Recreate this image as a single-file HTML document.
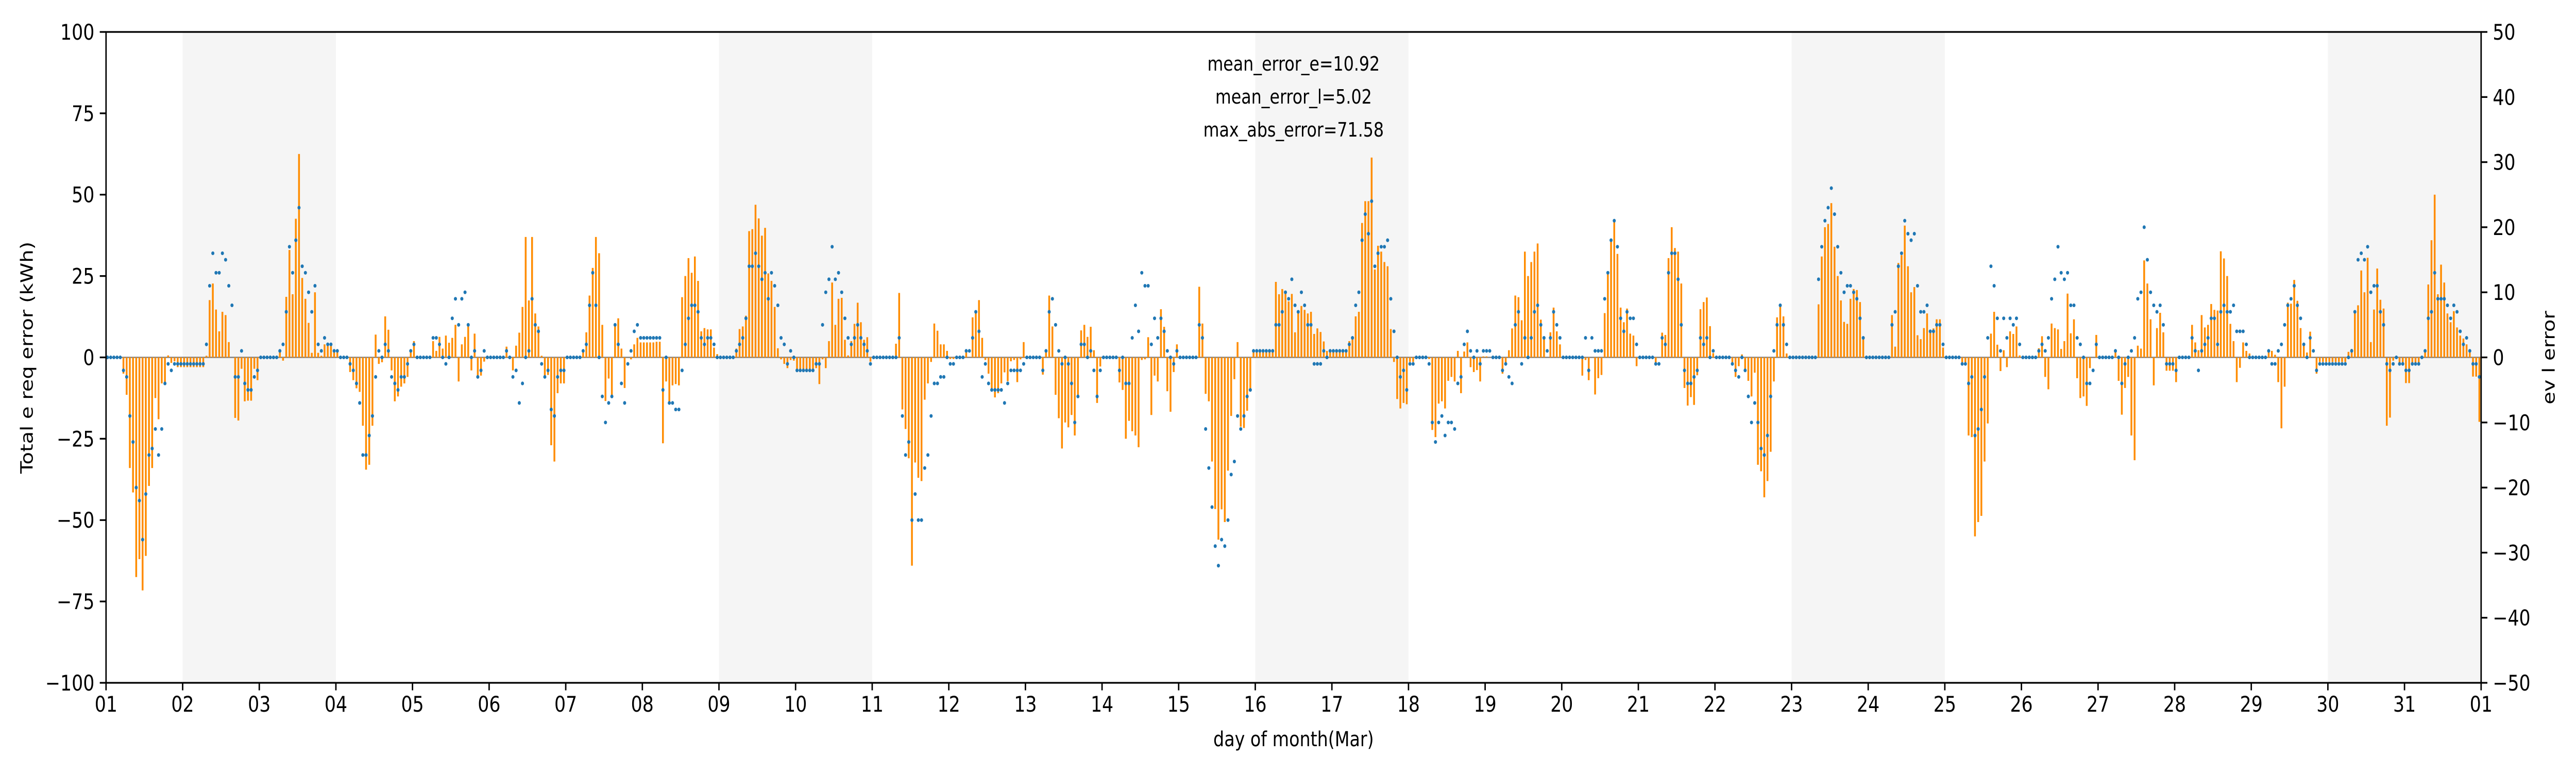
<!DOCTYPE html>
<html>
<head>
<meta charset="utf-8">
<meta name="viewport" content="width=6000, initial-scale=1">
<style>
  html,body{margin:0;padding:0;background:#fff;overflow:hidden;width:100vw;height:100vh;}
  svg{display:block;width:100vw;height:100vh;}
  text{font-family:"DejaVu Sans","Liberation Sans",sans-serif;fill:#000;}
</style>
</head>
<body>
<svg id="chart" xmlns="http://www.w3.org/2000/svg" viewBox="0 0 6000 1500" preserveAspectRatio="none">
  <rect x="0" y="0" width="6000" height="1500" fill="#ffffff"/>
  <g id="bands"></g>
  <g id="zeroline"></g>
  <g id="bars"></g>
  <g id="dots"></g>
  <g id="axes"></g>
  <g>
    <text x="3013" y="137" font-size="38" text-anchor="middle">mean_error_e=10.92</text>
    <text x="3013" y="201" font-size="38" text-anchor="middle">mean_error_l=5.02</text>
    <text x="3013" y="265" font-size="38" text-anchor="middle">max_abs_error=71.58</text>
  </g>
  <text x="3013" y="1448" font-size="40" text-anchor="middle">day of month(Mar)</text>
  <text transform="translate(76,694) rotate(-90)" font-size="40" text-anchor="middle">Total e req error (kWh)</text>
  <text transform="translate(5950,694) rotate(-90)" font-size="40" text-anchor="middle">ev l error</text>
</svg>
<script>
// ---- data ----
const xTickLabels = ["01","02","03","04","05","06","07","08","09","10","11","12","13","14","15","16","17","18","19","20","21","22","23","24","25","26","27","28","29","30","31","01"];
const leftTicks = [-100,-75,-50,-25,0,25,50,75,100];
const rightTicks = [-50,-40,-30,-20,-10,0,10,20,30,40,50];
const weekendStartDays = [1,8,15,22,29];
// total e req error (kWh), hourly, 31 days
const eReq = [
0,0,0,0,0,-5,-11.5,-34,-41.5,-67.5,-62,-71.6,-61,-39.5,-34,-12.5,-19,-8,-8.5,0.6,-1.7,-1.2,-3,-3,
-3,-3,-3,-3,-3,-3,-3,0.5,17.6,22.7,14.7,8,14,13,4.7,0,-18.6,-19.4,-3.5,-13.5,-13.3,-13.3,-3.5,-7,
0,0,0,0,0,0,2,-1,18.6,33,19.4,42.6,62.5,24.4,18,10.6,1.4,20,1.4,0.5,4,4,3.5,2,
2,0,0,0,-4.5,-7,-9.5,-10.6,-21,-34.5,-33,-21,7,-2,-1.5,12.6,8.5,-4,-13.5,-12,-9,-8,-6,2,
5,0,0,0,0,0,5,2,6.3,2.7,6.7,4.5,6,10,-7.4,4,6.3,10,-4,7.3,-6,-5.6,-1.3,0,
0,0,0,0,0,3.3,0,-4,3.6,7.6,15.5,37,17.5,37,13.5,9.5,0.5,-6,-5.4,-27,-32,-11,-8,-8,
0,0,0,0,0,2,7.7,19,27.5,37,32,10,-13.4,-6.5,-12,10,12,2.7,-9.4,0,-0.6,4,6,4.6,
4.6,4.6,4.6,4.6,4.8,4.8,-26.4,-7.4,-14,-8.6,-8.2,-8.6,18.5,25,30.5,26,31,23.5,8,9,8.6,8.6,3,1,
0,0,0,0,0,2.7,8.7,9.5,12.8,38.8,39.4,46.9,42.7,37.4,39.8,25.8,23.5,15.5,2.8,-0.6,-2,-3.3,-0.8,-1,
-4,-4,-4,-4,-4,-4,-3.3,-8.2,-0.6,-3.3,5,23,10,18,18.3,5.4,0.6,5,10.3,16.8,10.8,5.4,6.2,-1.3,
0,0,0,0,0,0,0,4.2,19.8,-16,-22,-31,-64,-32.3,-37,-38,-13,-8,-1.4,10.4,8.2,4,4,2,
-0.5,-0.5,0,0,0,1.8,0,12.3,14,17.6,6,-0.8,-5,-9.5,-12.3,-11,-8,-4.6,-7.3,-1.2,-0.8,-7.6,-0.6,4.7,
0,0,0,0,0,-5.3,1.8,19,9.5,-11.5,-18.7,-28,-20,-21.5,-17.7,-24,-12,8.3,10,6.3,9.4,2.2,-14,-2.8,
0,0,0,0,0,-7.7,-10,-25,-19.5,-22.7,-24,-27.6,-0.8,-0.6,6.2,-17.7,-5.6,-7.4,14.8,9.4,-10.4,-16.7,-4.5,4,
0,0,0,0,0,0,21.7,10.4,-11.2,-13.5,-32,-46.6,-56,-46.7,-50.6,-34.8,-18,-6.7,4.7,-21.3,-21.7,-16.4,-9.5,2,
2,2,2,2,2,2,23.2,19.4,21,20,17.2,19.5,7.7,13.9,15.8,14.6,13.5,14,7.2,8.9,7.8,4.9,2,2,
2,2,2,2,2,5,5.6,12.6,14,41.3,48,48,61.4,27,34.3,32.5,29.3,28,8.7,-1.4,-12.8,-15.7,-14,-14.4,
-1.4,-1.4,0,0,0,0,-0.5,-22.3,-24.5,-14.2,-13.5,-15.7,-7.2,-6,-7.4,2,-11,1.8,4.6,-3,-4.5,-3.9,-7.4,0.3,
0.3,0,0,0,0,-5,-2,2.2,8.9,19,18.5,11.4,32.5,25,29.3,32.5,35,11.6,6,0,7.7,15.3,8,4,
0,0,0,0,0,0,-5.6,-0.8,-7,0,-11.4,-6.4,-5.4,13.6,25.8,36,41.7,31.8,15.3,10.8,15,7.3,6.7,-2.7,
0,0,0,0,0,-1.5,0,7.6,6.9,30.5,40,33.6,32.5,22.7,-9.4,-14.8,-12.2,-14.6,-5.5,14.8,17,18.4,9.6,1.3,
0,0,0,0,0,-1.5,-6,-2.7,0.9,-3.6,-7.2,-12,-4.7,-33,-35,-43,-38,-29,-7.4,12.3,16,12.6,1.2,0,
0,0,0,0,0,0,0,0,16.3,31,40,41,47.4,34,25,17.5,10.9,10.3,18,21,20.7,17,6,0,
0,0,0,0,0,0,0,13,3.3,29,31.4,40.5,28,20,21.6,6.8,5.6,9,13.5,7.6,8.9,11.7,11.7,3,
0,0,0,0,0,-1.5,-1.5,-24,-24.5,-55,-50.6,-48.7,-32,-20.3,7.3,14,3.9,-4.2,2.2,-3,8,7.2,9.5,0.6,
0,0,0,0,0,2.8,6.5,-6,-9.8,10.4,9,8.6,2.6,5,19.6,7.4,11.7,-6.4,-12.5,-12,-14.9,-3.3,0,6.9,
0,0,0,0,0,1.8,-7.2,-17.6,-9.4,-6,-24,-31.6,3.6,2.7,29.8,22.7,11.7,-8.6,9,13.7,7.7,-4.1,-4.1,-4.1,
-7.6,0,0,0,0,10,4.6,2.2,13,9.2,10,16.4,14.6,14.4,32.6,30.4,25,10.3,5,-7.6,-3.2,4.6,2,1.2,
0,0,0,0,0,2,2,0.8,-7.6,-21.8,-9,16.8,16.5,23.8,17.4,9,3.6,1.5,7.9,0,-5,-1.4,-1.4,-1.4,
-1.4,-1.4,-1.4,-1.4,-1.4,-1.4,1.7,2.6,14.5,16,26.7,20,30.6,4.7,14.7,27.3,17.7,15,-21,-18.5,-1,0,-2,-2,
-7.9,-7.9,-2,-2,-2,0,1.7,22.4,36,50,19.4,28.5,23,13.5,10.8,14.2,9.2,6.7,5.8,4,1.5,-5.9,-5.9,-19.8
];
// ev l error, hourly, 31 days
const evL = [
0,0,0,0,0,-2,-3,-9,-13,-20,-22,-28,-21,-15,-14,-11,-15,-11,-4,-1,-2,-1,-1,-1,
-1,-1,-1,-1,-1,-1,-1,2,11,16,13,13,16,15,11,8,-3,-3,1,-4,-5,-5,-3,-2,
0,0,0,0,0,0,1,2,7,17,13,18,23,14,13,10,7,11,2,1,3,2,2,1,
1,0,0,0,-1,-2,-4,-7,-15,-15,-12,-9,-3,1,0,2,1,-3,-4,-5,-3,-3,-1,1,
2,0,0,0,0,0,3,3,2,0,-1,0,6,9,5,9,10,5,0,1,-3,-2,1,0,
0,0,0,0,0,1,0,-3,-2,-7,-4,0,1,9,5,4,-1,-3,-2,-8,-9,-3,-2,-2,
0,0,0,0,0,1,2,8,13,8,0,-6,-10,-7,-6,5,2,-4,-7,-1,1,4,5,3,
3,3,3,3,3,3,-5,0,-7,-7,-8,-8,-2,2,6,8,8,7,3,2,3,3,2,0,
0,0,0,0,0,1,2,3,6,14,14,16,14,12,13,9,13,11,8,3,2,-1,1,0,
-2,-2,-2,-2,-2,-2,-1,-1,5,10,12,17,12,13,10,6,3,2,3,5,3,2,1,-1,
0,0,0,0,0,0,0,0,3,-9,-15,-13,-25,-21,-25,-25,-17,-15,-9,-4,-4,-3,-3,0,
-1,-1,0,0,0,1,1,3,7,4,-3,-1,-4,-5,-5,-5,-5,-7,-4,-2,-2,-2,-2,-1,
0,0,0,0,0,-2,1,7,9,5,1,-1,0,-1,-4,-10,-6,2,2,0,1,-2,-6,-2,
0,0,0,0,0,-2,0,-4,-4,3,8,4,13,11,11,2,6,3,6,4,1,0,-1,1,
0,0,0,0,0,0,5,3,-11,-17,-23,-29,-32,-28,-29,-25,-18,-16,-9,-11,-9,-6,-5,1,
1,1,1,1,1,1,5,5,7,10,9,12,8,7,10,8,5,5,-1,-1,-1,1,0,1,
1,1,1,1,1,2,3,8,10,18,22,19,24,14,16,17,17,18,9,4,0,-3,-2,-5,
-1,-1,0,0,0,0,-1,-10,-13,-10,-9,-12,-10,-10,-11,-4,-3,2,4,1,0,1,-1,1,
1,1,0,0,0,-2,-1,-3,-4,5,7,-1,3,0,3,7,8,5,3,1,3,7,5,3,
0,0,0,0,0,0,0,3,-2,3,1,1,1,9,13,18,21,17,6,4,7,6,6,2,
0,0,0,0,0,-1,-1,3,2,13,16,16,12,5,-2,-4,-4,-3,-2,3,2,3,0,1,
0,0,0,0,0,-1,-2,-3,0,-2,-6,-10,-7,-10,-14,-15,-12,-6,1,5,8,5,2,0,
0,0,0,0,0,0,0,0,12,17,21,23,26,22,17,13,10,11,11,10,9,6,3,0,
0,0,0,0,0,0,0,5,7,14,16,21,19,18,19,11,7,7,8,4,4,5,5,2,
0,0,0,0,0,-1,-1,-4,-3,-12,-11,-8,-3,3,14,11,6,1,6,3,6,5,6,2,
0,0,0,0,0,1,2,1,3,9,12,17,13,12,13,8,8,3,2,0,-4,-4,-2,2,
0,0,0,0,0,1,0,-4,-1,0,1,3,9,10,20,15,10,8,7,8,5,-1,-1,-1,
-2,0,0,0,0,3,1,-2,1,2,3,6,6,2,7,8,7,7,8,4,4,4,2,0,
0,0,0,0,0,1,-1,-1,1,2,5,8,9,11,8,6,2,0,3,1,-2,-1,-1,-1,
-1,-1,-1,-1,-1,-1,0,1,7,15,16,15,17,10,11,11,7,5,-1,-2,-1,0,-1,-1,
-2,-2,-1,-1,-1,0,1,6,7,13,9,9,9,8,6,8,7,4,2,3,1,-1,-1,-3
];

// ---- axes ----
const NS = "http://www.w3.org/2000/svg";
const PL = 247, PR = 5779, PT = 62, PB = 1325;
const nDays = 31;
function xDay(d){ return PL + d/nDays*(PR-PL); }
function xHour(k){ return xDay((k+0.45)/24); }
function yLeft(v){ return PT + (100 - v)/200*(PB-PT); }
function yRight(v){ return PT + (50 - v)/100*(PB-PT); }
function mk(tag, attrs, parent){
  const el = document.createElementNS(NS, tag);
  for (const k in attrs) el.setAttribute(k, attrs[k]);
  parent.appendChild(el);
  return el;
}

const gBands = document.getElementById('bands');
weekendStartDays.forEach(d => {
  const r = mk('rect', {x:xDay(d), y:PT, width:xDay(d+2)-xDay(d), height:PB-PT, fill:'#f5f5f5'}, gBands);
  
  
});

const gZero = document.getElementById('zeroline');
const zl = mk('line', {x1:PL, x2:PR, y1:yLeft(0), y2:yLeft(0), stroke:'#808080', 'stroke-width':2.5}, gZero);



const gBars = document.getElementById('bars');
const bw = 4.2;
eReq.forEach((v, k) => {
  const y0 = yLeft(0), y1 = yLeft(v);
  const b = mk('rect', {x:xHour(k)-bw/2, y:Math.min(y0,y1), width:bw, height:Math.max(0.01, Math.abs(y1-y0)), fill:'#ff8c00'}, gBars);
  
  
});

const gDots = document.getElementById('dots');
evL.forEach((v, k) => {
  const c = mk('circle', {cx:xHour(k), cy:yRight(v), r:3.6, fill:'#1f77b4'}, gDots);
  
  
});

const gAx = document.getElementById('axes');
const frame = mk('rect', {x:PL, y:PT, width:PR-PL, height:PB-PT, fill:'none', stroke:'#000', 'stroke-width':3.3}, gAx);



xTickLabels.forEach((lab, i) => {
  const x = xDay(i);
  const t = mk('line', {x1:x, x2:x, y1:PB, y2:PB+14.6, stroke:'#000', 'stroke-width':3.3}, gAx);
  
  
  const tx = mk('text', {x:x, y:PB+56, 'font-size':41.7, 'text-anchor':'middle'}, gAx);
  tx.textContent = lab;
  
  
});
leftTicks.forEach(v => {
  const y = yLeft(v);
  const t = mk('line', {x1:PL-14.6, x2:PL, y1:y, y2:y, stroke:'#000', 'stroke-width':3.3}, gAx);
  
  
  const tx = mk('text', {x:PL-27, y:y+15, 'font-size':41.7, 'text-anchor':'end'}, gAx);
  tx.textContent = v < 0 ? '\u2212' + Math.abs(v) : String(v);
  
  
});
rightTicks.forEach(v => {
  const y = yRight(v);
  const t = mk('line', {x1:PR, x2:PR+14.6, y1:y, y2:y, stroke:'#000', 'stroke-width':3.3}, gAx);
  
  
  const tx = mk('text', {x:PR+27, y:y+15, 'font-size':41.7, 'text-anchor':'start'}, gAx);
  tx.textContent = v < 0 ? '\u2212' + Math.abs(v) : String(v);
  
  
});
</script>
</body>
</html>
